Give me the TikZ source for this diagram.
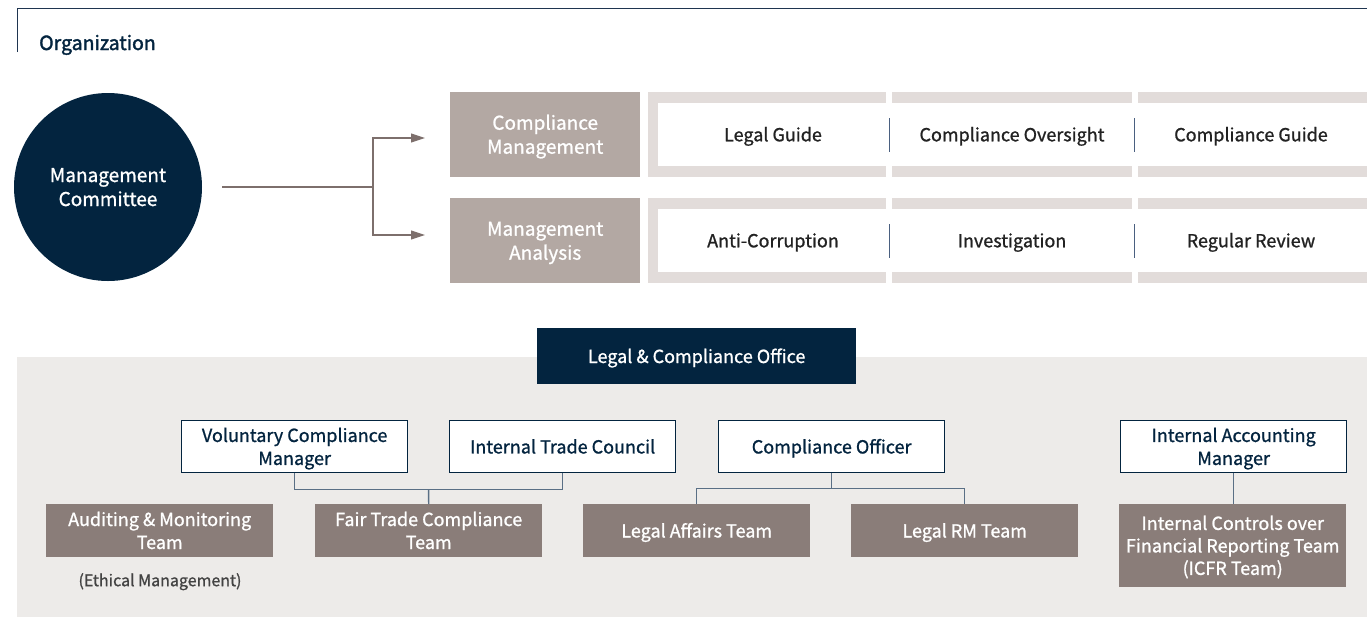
\documentclass[tikz,border=0pt]{standalone}
\usepackage{fontspec}
\setmainfont{Noto Sans CJK KR}[FakeBold=1]
\newfontfamily\orgfont{Noto Sans CJK KR}[FakeBold=1.8]
\usetikzlibrary{arrows.meta,calc}
\definecolor{navy}{HTML}{03243F}
\definecolor{framec}{HTML}{1F3550}
\definecolor{taupe}{HTML}{B3A8A3}
\definecolor{panelgrey}{HTML}{E2DCDA}
\definecolor{bggrey}{HTML}{EDEBE9}
\definecolor{brownbox}{HTML}{8A7D79}
\definecolor{arrowc}{HTML}{7D6F6C}
\definecolor{linkc}{HTML}{5A6F85}
\definecolor{textc}{HTML}{222222}
\definecolor{dividerc}{HTML}{4A6080}
\newcommand\lbl[1]{\raisebox{-2.2pt}[\height][\depth]{\begin{tabular}{@{}c@{}}#1\end{tabular}}}
\tikzset{
  fsbig/.style={font=\fontsize{19}{24}\selectfont},
  fsmid/.style={font=\fontsize{18}{23}\selectfont},
  topbox/.style={rectangle, fill=taupe, text=white, minimum width=190pt, minimum height=85pt, inner sep=0pt, fsbig, anchor=north west},
  paneltext/.style={text=textc, fsmid, inner sep=0pt},
  mgrbox/.style={rectangle, draw=navy, line width=1.3pt, fill=white, text=navy, minimum width=226pt, minimum height=52pt, inner sep=0pt, fsmid, anchor=north west},
  teambox/.style={rectangle, fill=brownbox, text=white, minimum width=227pt, minimum height=53pt, inner sep=0pt, fsmid, anchor=north west},
  arrowline/.style={draw=arrowc, line width=1.1pt},
  link/.style={draw=linkc, line width=1.4pt}
}
\begin{document}
\begin{tikzpicture}[x=1pt,y=-1pt]
\useasboundingbox (0,0) rectangle (1367,619);
% frame
\draw[framec, line width=1pt] (17,52) -- (17,8) -- (1367,8);
\node[anchor=west, text=navy, font=\orgfont\fontsize{19.5}{24}\selectfont, inner sep=0pt] (org) at (39,43) {\lbl{Organization}};
% management committee
\node[circle, fill=navy, minimum size=188pt, inner sep=0pt, text=white, fsbig] (mc) at (108,187) {\lbl{Management\\Committee}};
% top boxes
\node[topbox] (cm) at (450,92) {\lbl{Compliance\\Management}};
\node[topbox] (ma) at (450,198) {\lbl{Management\\Analysis}};
% arrows
\coordinate (start) at (222,187);
\coordinate (split) at (373,187);
\coordinate (a1) at (425,138);
\coordinate (a2) at (425,235);
\draw[arrowline] (start) -- (split);
\draw[arrowline, -{Triangle[length=14pt,width=9pt]}] (split) |- (a1);
\draw[arrowline, -{Triangle[length=14pt,width=9pt]}] (split) |- (a2);
% panels
\foreach \y in {92,198}{
  \fill[panelgrey] (648,\y) rectangle (886,\y+85);
  \fill[panelgrey] (892,\y) rectangle (1132,\y+85);
  \fill[panelgrey] (1138,\y) rectangle (1367,\y+85);
  \fill[white] (658,\y+11) rectangle (1367,\y+74);
  \draw[dividerc, line width=1pt] (889,\y+26) -- (889,\y+60);
  \draw[dividerc, line width=1pt] (1134,\y+26) -- (1134,\y+60);
}
\node[paneltext] (lg) at (773,134.5) {\lbl{Legal Guide}};
\node[paneltext] (co) at (1012,134.5) {\lbl{Compliance Oversight}};
\node[paneltext] (cg) at (1251,134.5) {\lbl{Compliance Guide}};
\node[paneltext] (ac) at (773,240.5) {\lbl{Anti-Corruption}};
\node[paneltext] (inv) at (1012,240.5) {\lbl{Investigation}};
\node[paneltext] (rr) at (1251,240.5) {\lbl{Regular Review}};
% bottom background
\fill[bggrey] (17,357) rectangle (1367,617);
\node[rectangle, fill=navy, text=white, minimum width=319pt, minimum height=56pt, inner sep=0pt, fsmid, anchor=north west] (lco) at (537,328) {\lbl{Legal \& Compliance Office}};
% managers
\node[mgrbox] (vcm) at (181,420) {\lbl{Voluntary Compliance\\Manager}};
\node[mgrbox] (itc) at (449,420) {\lbl{Internal Trade Council}};
\node[mgrbox] (cof) at (718,420) {\lbl{Compliance Officer}};
\node[mgrbox] (iam) at (1120,420) {\lbl{Internal Accounting\\Manager}};
% teams
\node[teambox] (amt) at (46,504) {\lbl{Auditing \& Monitoring\\Team}};
\node[teambox] (ftc) at (315,504) {\lbl{Fair Trade Compliance\\Team}};
\node[teambox] (lat) at (583,504) {\lbl{Legal Affairs Team}};
\node[teambox] (lrm) at (851,504) {\lbl{Legal RM Team}};
\node[teambox, minimum height=83pt, font=\fontsize{18}{22.5}\selectfont] (icfr) at (1119,504) {\lbl{Internal Controls over\\Financial Reporting Team\\(ICFR Team)}};
\node[text=textc!85, font=\fontsize{16}{20}\selectfont, inner sep=0pt] (eth) at (160,580) {\lbl{(Ethical Management)}};
% links
\draw[link] (vcm.south) -- ++(0,16) -| (itc.south);
\draw[link] ($(vcm.south)!0.5!(itc.south)+(0,16)$) -- (ftc.north);
\draw[link] (cof.south) -- ++(0,15);
\draw[link] (lat.north) |- ($(cof.south)+(0,15)$) -| (lrm.north);
\draw[link] (iam.south) -- (iam.south |- icfr.north);
\end{tikzpicture}
\end{document}
